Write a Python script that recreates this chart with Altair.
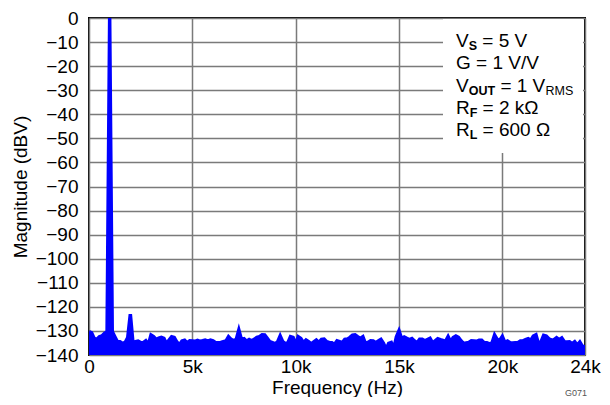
import altair as alt
import numpy as np
import pandas as pd

# FFT bin spacing 125 Hz, 0 .. 24 kHz
bin_hz = 125
mag_dbv = [
    -130.3, -130.8, -133.1, -133.5, -132.4, -132.1, -131.0, -130.3,
    0.0, -130.3, -132.4, -134.5, -134.5, -135.2, -134.8, -132.7,
    -123.0, -134.8, -134.5, -134.2, -134.8, -134.9, -134.1, -135.6,
    -131.7, -132.4, -133.5, -133.0, -132.7, -133.1, -135.3, -133.8,
    -132.4, -132.7, -134.6, -135.7, -134.2, -133.9, -135.0, -134.1,
    -134.2, -134.3, -133.9, -134.3, -134.1, -133.8, -134.2, -133.8,
    -134.1, -134.9, -134.9, -134.8, -134.5, -134.2, -132.4, -133.5,
    -134.1, -133.5, -129.6, -133.5, -133.2, -134.3, -133.6, -134.1,
    -133.4, -132.7, -132.4, -131.6, -131.7, -133.1, -134.5, -134.9,
    -135.3, -134.6, -132.1, -134.5, -135.3, -134.9, -132.4, -132.7,
    -135.6, -132.4, -133.1, -134.9, -133.8, -134.5, -135.4, -134.6,
    -133.8, -134.8, -133.5, -133.4, -134.5, -134.8, -134.9, -135.6,
    -134.1, -134.5, -134.9, -133.5, -133.4, -132.7, -131.8, -131.6,
    -132.4, -133.1, -132.4, -135.2, -134.8, -134.1, -134.2, -134.9,
    -134.2, -133.5, -135.2, -137.6, -135.2, -134.8, -137.2, -132.4,
    -129.9, -133.2, -132.5, -133.1, -133.6, -133.2, -134.2, -134.9,
    -133.5, -133.5, -134.1, -133.6, -133.1, -135.0, -134.1, -133.2,
    -133.6, -133.9, -134.3, -132.3, -134.5, -132.7, -132.1, -132.7,
    -134.1, -135.2, -135.0, -134.8, -134.1, -134.2, -134.3, -133.9,
    -133.9, -134.9, -134.9, -135.4, -135.0, -131.7, -133.5, -133.9,
    -132.3, -134.8, -134.2, -134.9, -135.0, -134.9, -134.9, -134.2,
    -134.1, -133.6, -133.2, -133.9, -132.1, -131.6, -135.3, -134.5,
    -131.8, -132.1, -133.2, -133.9, -133.6, -132.8, -133.6, -132.9,
    -134.5, -134.6, -134.5, -135.3, -134.5, -135.9, -134.6, -136.4,
    -136.6,
]
freq_hz = np.arange(len(mag_dbv)) * bin_hz

x_ticks = [0, 5000, 10000, 15000, 20000, 24000]
y_ticks = [0, -10, -20, -30, -40, -50, -60, -70, -80, -90, -100, -110, -120, -130, -140]

df = pd.DataFrame({"f": freq_hz, "m": mag_dbv})

FONT = "Liberation Sans"
BLUE = "#0000ff"
W, H = 496, 337
FS = 19

xenc = alt.X("f:Q", scale=alt.Scale(domain=[0, 24000], nice=False, zero=False),
             axis=alt.Axis(values=x_ticks, title="Frequency (Hz)", grid=True,
                           labelExpr="datum.value == 0 ? '0' : (datum.value / 1000) + 'k'",
                           labelFlush=False, labelOverlap=False, ticks=False,
                           labelPadding=2, titleY=42, titleBaseline="bottom",
                           domain=False))
yenc = alt.Y("m:Q", scale=alt.Scale(domain=[-140, 0], nice=False, zero=False),
             axis=alt.Axis(values=y_ticks, title="Magnitude (dBV)", grid=True,
                           labelFlush=False, labelOverlap=False, ticks=False,
                           labelPadding=11, titleX=-69, titleBaseline="middle",
                           domain=False))

base = alt.Chart(df)
area = base.mark_area(color=BLUE, clip=True, opacity=1).encode(
    x=xenc, y=yenc, y2=alt.datum(-140))
line = base.mark_line(color=BLUE, strokeWidth=3.5, clip=True).encode(
    x=xenc, y=yenc)

one = pd.DataFrame({"k": [0]})

box = alt.Chart(one).mark_rect(color="white").encode(
    x=alt.value(354), x2=alt.value(494), y=alt.value(1), y2=alt.value(135))


def txt(s, x, y, size=FS, weight="normal", color="black"):
    return alt.Chart(one).mark_text(
        text=s, align="left", baseline="alphabetic", font=FONT,
        fontSize=size, fontWeight=weight, color=color
    ).encode(x=alt.value(x), y=alt.value(y))


SUB = 12.5
layers = [area, line, box,
          txt("V", 367, 28.8), txt("S", 379.7, 32.3, SUB, "bold"), txt("= 5 V", 393.3, 28.8),
          txt("G = 1 V/V", 367, 50.8),
          txt("V", 367, 73.8), txt("OUT", 379.7, 77.3, SUB, "bold"), txt("= 1 V", 411.4, 73.8),
          txt("RMS", 456.5, 77.3, SUB),
          txt("R", 367, 95.8), txt("F", 380.7, 99.3, SUB, "bold"), txt("= 2 k\u03a9", 393.6, 95.8),
          txt("R", 367, 117.8), txt("L", 380.7, 121.3, SUB, "bold"), txt("= 600 \u03a9", 393.6, 117.8),
          txt("G071", 476, 378, 9, "normal", "#555555"),
          ]

chart = alt.layer(*layers).properties(
    width=W, height=H,
    autosize=alt.AutoSizeParams(type="none"),
    padding={"left": 81, "top": 10, "right": 17, "bottom": 42},
).configure_view(stroke="black", strokeWidth=2).configure_axis(
    labelFont=FONT, titleFont=FONT, labelFontSize=FS, titleFontSize=FS,
    labelColor="black", titleColor="black", titleFontWeight="normal",
    gridColor="#7a7a7a", gridWidth=1.5, gridOpacity=1,
)

chart.save("out.html", embed_options={"renderer": "svg", "actions": False})
